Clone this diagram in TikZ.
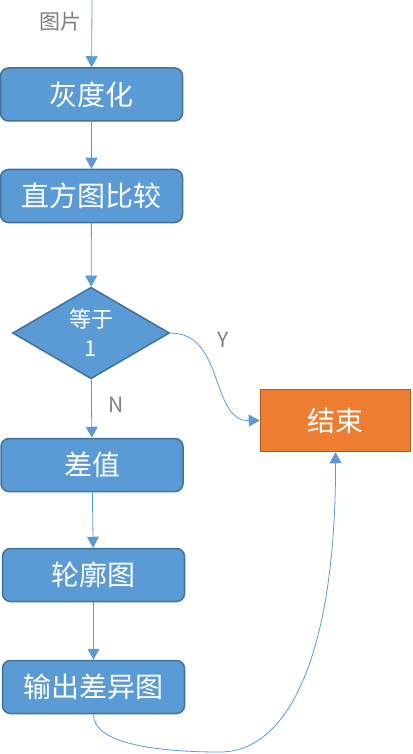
\documentclass[tikz,border=0pt]{standalone}
\usepackage{fontspec}
\newfontfamily\cjk{Noto Sans CJK SC}
\usetikzlibrary{shapes.geometric,arrows.meta}
\definecolor{bfill}{HTML}{5B9BD5}
\definecolor{bdraw}{HTML}{41719C}
\definecolor{ofill}{HTML}{ED7D31}
\definecolor{odraw}{HTML}{AE5A21}
\definecolor{lbl}{HTML}{7F7F7F}
\tikzset{
  stepbox/.style={rectangle, rounded corners=8pt, draw=bdraw, line width=1.5pt, fill=bfill,
    minimum width=182pt, minimum height=53pt, inner sep=0pt, text=white,
    font=\cjk\fontsize{28}{32}\selectfont},
  endbox/.style={rectangle, draw=odraw, line width=1.5pt, fill=ofill,
    minimum width=150pt, minimum height=62pt, inner sep=0pt, text=white,
    font=\cjk\fontsize{28}{32}\selectfont},
  decbox/.style={diamond, draw=bdraw, line width=1.5pt, fill=bfill,
    minimum width=157pt, minimum height=90pt, inner sep=0pt, text=white, align=center,
    font=\cjk\fontsize{22}{29}\selectfont},
  conn/.style={draw=bfill, line width=0.8pt, -{Triangle[width=12pt,length=11pt]}},
  lab/.style={text=lbl, font=\cjk\fontsize{21}{24}\selectfont, inner sep=0pt}
}
\begin{document}
\begin{tikzpicture}[x=1pt,y=-1pt]
\useasboundingbox (0,0) rectangle (412,754);
\coordinate (top) at (92,0);
\node[stepbox] (b1) at (91.5,94.5) {灰度化};
\node[stepbox] (b2) at (91.5,196) {直方图比较};
\node[decbox] (d) at (91,333) {等于\\1};
\node[endbox] (e) at (335.5,420.5) {结束};
\node[stepbox] (b3) at (92,465) {差值};
\node[stepbox] (b4) at (93.5,575) {轮廓图};
\node[stepbox] (b5) at (93.5,687) {输出差异图};
\node[lab] (l1) at (60,22) {图片};
\node[lab] (ly) at (223,340) {Y};
\node[lab] (ln) at (116,405) {N};
\coordinate (low) at (220,752);
\draw[conn] (top) -- (b1);
\draw[conn] (b1) -- (b2);
\draw[conn] (b2) -- (d);
\draw[conn] (d) -- (b3);
\draw[conn] (b3) -- (b4);
\draw[conn] (b4) -- (b5);
\draw[conn] (d.east) .. controls (225,333) and (210,421) .. (e.west);
\draw[conn] (b5.south) .. controls (93,742) and (150,752) .. (low) .. controls (290,752) and (336,650) .. (e.south);
\end{tikzpicture}
\end{document}
